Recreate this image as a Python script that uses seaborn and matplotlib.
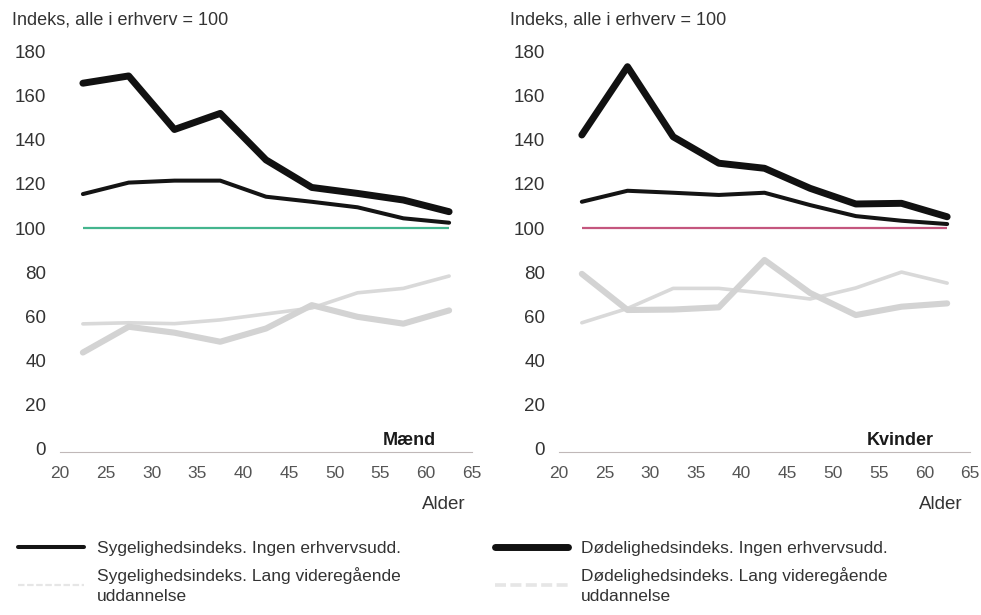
import pandas as pd
import seaborn as sns
import matplotlib.pyplot as plt
from matplotlib.lines import Line2D

# ==========================================
# 1. DATA
# ==========================================
alder = [22.5, 27.5, 32.5, 37.5, 42.5, 47.5, 52.5, 57.5, 62.5]

# Mænd
m_syg_ingen = [115.4, 120.6, 121.5, 121.5, 114.2, 111.9, 109.4, 104.4, 102.4]
m_doed_ingen = [165.7, 169.0, 144.7, 152.0, 130.9, 118.4, 115.7, 112.7, 107.4]
m_syg_lang = [56.5, 57.0, 56.6, 58.3, 61.0, 63.7, 70.6, 72.6, 78.2]
m_doed_lang = [43.5, 55.2, 52.5, 48.4, 54.4, 65.0, 59.7, 56.6, 62.6]

# Kvinder
k_syg_ingen = [111.9, 116.9, 116.0, 115.0, 116.0, 110.4, 105.4, 103.3, 101.8]
k_doed_ingen = [142.2, 173.2, 141.4, 129.4, 127.1, 118.0, 110.9, 111.2, 105.1]
k_syg_lang = [57.0, 63.5, 72.6, 72.6, 70.4, 67.8, 72.8, 80.0, 75.0]
k_doed_lang = [79.2, 62.8, 63.0, 64.0, 85.5, 70.5, 60.5, 64.3, 65.8]

x_ticks = [20, 25, 30, 35, 40, 45, 50, 55, 60, 65]
y_ticks = [0, 20, 40, 60, 80, 100, 120, 140, 160, 180]
ref_value = 100

lbl_syg_ingen = "Sygelighedsindeks. Ingen erhvervsudd."
lbl_syg_lang = "Sygelighedsindeks. Lang videregående\nuddannelse"
lbl_doed_ingen = "Dødelighedsindeks. Ingen erhvervsudd."
lbl_doed_lang = "Dødelighedsindeks. Lang videregående\nuddannelse"

# ==========================================
# 2. STYLE
# ==========================================
sns.set_style("white")
plt.rcParams['font.family'] = ['Liberation Sans', 'DejaVu Sans']

styles = {
    'syg_ingen': dict(color='#141414', lw=2.9),
    'doed_ingen': dict(color='#111111', lw=5.0),
    'syg_lang': dict(color='#d9d9d9', lw=2.6),
    'doed_lang': dict(color='#d3d3d3', lw=4.4),
}

panels = [
    dict(name='Mænd', ref='#44b58e', alder_x=0.985, navn_x=0.847,
         series={'syg_lang': m_syg_lang, 'doed_lang': m_doed_lang,
                 'syg_ingen': m_syg_ingen, 'doed_ingen': m_doed_ingen}),
    dict(name='Kvinder', ref='#c4567e', alder_x=0.983, navn_x=0.83,
         series={'syg_lang': k_syg_lang, 'doed_lang': k_doed_lang,
                 'syg_ingen': k_syg_ingen, 'doed_ingen': k_doed_ingen}),
]

fig = plt.figure(figsize=(9.81, 6.15), dpi=100)
axes = [fig.add_axes([60 / 981, 163.3 / 615, 412 / 981, 400 / 615]),
        fig.add_axes([559 / 981, 163.3 / 615, 411 / 981, 400 / 615])]

for ax, p in zip(axes, panels):
    s = p['series']
    for key in ['syg_lang', 'doed_lang']:
        sns.lineplot(x=alder, y=s[key], ax=ax, color=styles[key]['color'],
                     linewidth=styles[key]['lw'], solid_capstyle='round')
    ax.hlines(ref_value, alder[0], alder[-1], color=p['ref'], lw=1.6)
    for key in ['syg_ingen', 'doed_ingen']:
        sns.lineplot(x=alder, y=s[key], ax=ax, color=styles[key]['color'],
                     linewidth=styles[key]['lw'], solid_capstyle='round',
                     solid_joinstyle='round')

    ax.set_xlim(20, 65)
    ax.set_ylim(-1.5, 180)
    ax.set_xticks(x_ticks)
    ax.set_yticks(y_ticks)
    ax.set_xticklabels([str(v) for v in x_ticks], fontsize=12.5,
                       color='#555555')
    ax.set_yticklabels([str(v) for v in y_ticks], fontsize=13.5,
                       color='#333333')
    ax.tick_params(axis='x', direction='in', length=6, width=0.8,
                   color='#b5b0b0', pad=10)
    ax.tick_params(axis='y', length=0, pad=10)
    for side in ['left', 'right', 'top']:
        ax.spines[side].set_visible(False)
    ax.spines['bottom'].set_color('#c0b8b8')
    ax.spines['bottom'].set_linewidth(0.8)
    ax.set_xlabel('')
    ax.set_ylabel('')
    ax.set_facecolor('none')

    ax.text(p['alder_x'], -0.133, 'Alder', transform=ax.transAxes,
            ha='right', va='center', fontsize=13.5, color='#333333')
    ax.text(p['navn_x'], 0.006, p['name'], transform=ax.transAxes,
            ha='center', va='bottom', fontsize=13, fontweight='bold',
            color='#1a1a1a')

fig.text(12 / 981, 1 - 20 / 615, 'Indeks, alle i erhverv = 100',
         ha='left', va='center', fontsize=13, color='#333333')
fig.text(510 / 981, 1 - 20 / 615, 'Indeks, alle i erhverv = 100',
         ha='left', va='center', fontsize=13, color='#333333')

# ==========================================
# 3. LEGEND (two columns)
# ==========================================
def proxy(key, faint=False):
    if faint:
        return Line2D([], [], color='#e6e6e6', lw=styles[key]['lw'] * 0.6,
                      ls=(0, (3, 1.2)))
    return Line2D([], [], color=styles[key]['color'], lw=styles[key]['lw'],
                  solid_capstyle='round')

common = dict(frameon=False, fontsize=12.5, borderpad=0, borderaxespad=0,
              handletextpad=0.75, labelspacing=0.6, labelcolor='#333333')
leg1 = fig.legend([proxy('syg_ingen'), proxy('syg_lang', True)],
                  [lbl_syg_ingen, lbl_syg_lang], loc='upper left',
                  bbox_to_anchor=(18 / 981, 1 - 541 / 615), handlelength=3.8,
                  **common)
leg2 = fig.legend([proxy('doed_ingen'), proxy('doed_lang', True)],
                  [lbl_doed_ingen, lbl_doed_lang], loc='upper left',
                  bbox_to_anchor=(495 / 981, 1 - 541 / 615), handlelength=4.2,
                  **common)
for leg in (leg1, leg2):
    for t in leg.get_texts():
        t.set_linespacing(1.45)

plt.savefig('out.png', dpi=100)
